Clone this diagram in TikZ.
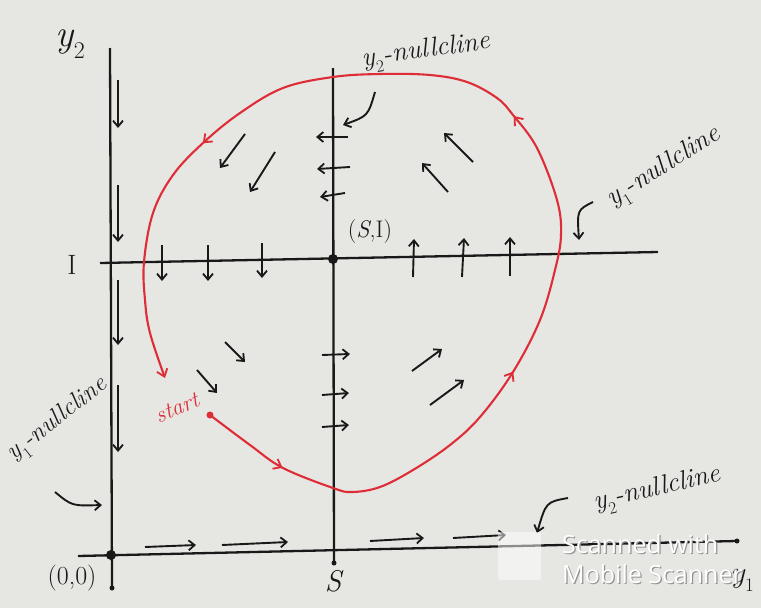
\documentclass[tikz,border=0pt]{standalone}
\usepackage{fontspec}
\newfontfamily\wmfont{Open Sans}
\usetikzlibrary{arrows.meta,decorations.markings}
\definecolor{paper}{RGB}{230,230,227}
\definecolor{ink}{RGB}{25,25,25}
\definecolor{redink}{RGB}{222,45,55}
\newcommand\ysubs[2]{\textit{y}\kern0.5pt\raisebox{-0.3em}{\fontsize{#2}{#2}\selectfont\upshape #1}}
\begin{document}
\begin{tikzpicture}[x=1pt,y=-1pt,
  axis/.style={ink, line width=2.3pt},
  vec/.style={ink, line width=1.9pt, -{Straight Barb[length=6pt,width=10pt,line width=1.8pt]}},
  lbl/.style={ink, font=\fontsize{27}{30}\selectfont\itshape, inner sep=1pt},
  traj/.style={redink, line width=2.1pt},
  dotnode/.style={circle, fill=ink, inner sep=0pt},
  wm/.style={font=\wmfont\fontsize{25}{28}\selectfont, anchor=west, inner sep=0pt}]
\fill[paper] (0,0) rectangle (761,608);
\useasboundingbox (0,0) rectangle (761,608);
% axes
\coordinate (ytop) at (110,48);
\coordinate (ybot) at (112,588);
\coordinate (xleft) at (78,556);
\coordinate (xright) at (737,541);
\coordinate (Stop) at (333,68);
\coordinate (Sbot) at (334,563);
\coordinate (Ileft) at (100,263);
\coordinate (Iright) at (658,252);
\draw[axis] (ytop) -- (ybot);
\draw[axis] (xleft) -- (xright);
\draw[axis] (Stop) -- (Sbot);
\draw[axis] (Ileft) -- (Iright);
\node[dotnode, minimum size=10pt] (O) at (111,555) {};
\node[dotnode, minimum size=10pt] (E) at (333,259) {};
\node[dotnode, minimum size=5pt] (yb) at (ybot) {};
\node[dotnode, minimum size=5pt] (sb) at (Sbot) {};
\node[dotnode, minimum size=5pt] (xr) at (xright) {};
% labels
\node[lbl, font=\fontsize{38}{40}\selectfont\itshape] (y2) at (70,44) {\ysubs{2}{24}};
\node[lbl, font=\fontsize{28}{30}\selectfont] (Ilab) at (72,265) {I};
\node[lbl, font=\fontsize{26}{28}\selectfont] (olab) at (72,578) {(0,0)};
\node[lbl, font=\fontsize{30}{32}\selectfont\itshape] (Slab) at (333,581) {S};
\node[lbl, font=\fontsize{24}{26}\selectfont] (EIlab) at (370,232) {(\textit{S},I)};
\node[lbl, font=\fontsize{30}{32}\selectfont\itshape] (y1) at (742,580) {\ysubs{1}{19}};
\node[lbl, rotate=8] (n2top) at (426,52) {\ysubs{2}{17}-nullcline};
\node[lbl, rotate=32] (n1right) at (664,168) {\ysubs{1}{17}-nullcline};
\node[lbl, rotate=38, font=\fontsize{25}{28}\selectfont\itshape] (n1left) at (58,420) {\ysubs{1}{16}-nullcline};
\node[lbl, rotate=13] (n2bot) at (657,490) {\ysubs{2}{17}-nullcline};
\node[lbl, redink, rotate=22, font=\fontsize{23}{26}\selectfont\itshape] (startlab) at (177,408) {start};
% pointer arrows
\draw[vec] (375,92) .. controls (368,116) .. (343,125);
\draw[vec] (593,202) .. controls (577,210) .. (579,240);
\draw[vec] (55,492) .. controls (72,506) .. (102,505);
\draw[vec] (568,498) .. controls (546,502) .. (537,533);
% vectors on left axis
\draw[vec] (118,80) -- (118,128);
\draw[vec] (118,185) -- (118,242);
\draw[vec] (118,280) -- (118,345);
\draw[vec] (118,385) -- (118,452);
% down arrows on I line
\draw[vec] (162,245) -- (162,281);
\draw[vec] (208,245) -- (208,281);
\draw[vec] (262,243) -- (262,278);
% up arrows on I line
\draw[vec] (413,277) -- (414,239);
\draw[vec] (462,277) -- (464,238);
\draw[vec] (510,276) -- (510,237);
% left arrows on S line
\draw[vec] (348,137) -- (316,137);
\draw[vec] (350,167) -- (317,169);
\draw[vec] (345,193) -- (320,197);
% right arrows on S line
\draw[vec] (322,355) -- (350,354);
\draw[vec] (322,395) -- (349,393);
\draw[vec] (322,427) -- (349,425);
% quadrant arrows
\draw[vec] (245,134) -- (220,168);
\draw[vec] (275,152) -- (250,192);
\draw[vec] (473,162) -- (444,133);
\draw[vec] (448,192) -- (422,163);
\draw[vec] (225,342) -- (245,362);
\draw[vec] (197,370) -- (217,393);
\draw[vec] (412,371) -- (442,349);
\draw[vec] (430,405) -- (464,380);
% bottom axis arrows
\draw[vec] (145,547) -- (196,545);
\draw[vec] (222,545) -- (288,542);
\draw[vec] (370,541) -- (424,538);
\draw[vec] (453,538) -- (506,535);
% trajectory
\node[circle, fill=redink, inner sep=0pt, minimum size=7pt] (st) at (210,415) {};
\draw[traj, -{Straight Barb[length=7pt,width=11pt,line width=1.8pt]},
  postaction={decorate},
  decoration={markings,
    mark=at position 0.072 with {\arrow{Straight Barb[length=7pt,width=11pt,line width=1.8pt]}},
    mark=at position 0.298 with {\arrow{Straight Barb[length=7pt,width=11pt,line width=1.8pt]}},
    mark=at position 0.52 with {\arrow{Straight Barb[length=7pt,width=11pt,line width=1.8pt]}},
    mark=at position 0.795 with {\arrow{Straight Barb[length=7pt,width=11pt,line width=1.8pt]}}}]
  plot[smooth, tension=0.6] coordinates {(st.center) (250,445) (283,468) (333,488) (352,492) (380,487) (413,470) (450,445) (480,417) (513,372) (540,320) (555,270) (561,235) (557,200) (537,148) (513,115) (497,98) (467,82) (430,75) (380,74) (333,77) (283,88) (240,113) (203,143) (173,175) (153,213) (144,262) (145,300) (150,333) (165,378)};
% watermark
\fill[white, opacity=0.5, rounded corners=2pt] (498,532) rectangle (541,580);
\node[wm, gray!85] (wm1s) at (563.2,544.8) {Scanned with};
\node[wm, white] (wm1) at (562,544) {Scanned with};
\node[wm, gray!85] (wm2s) at (563.2,574.8) {Mobile Scanner};
\node[wm, white] (wm2) at (562,574) {Mobile Scanner};
\end{tikzpicture}
\end{document}
